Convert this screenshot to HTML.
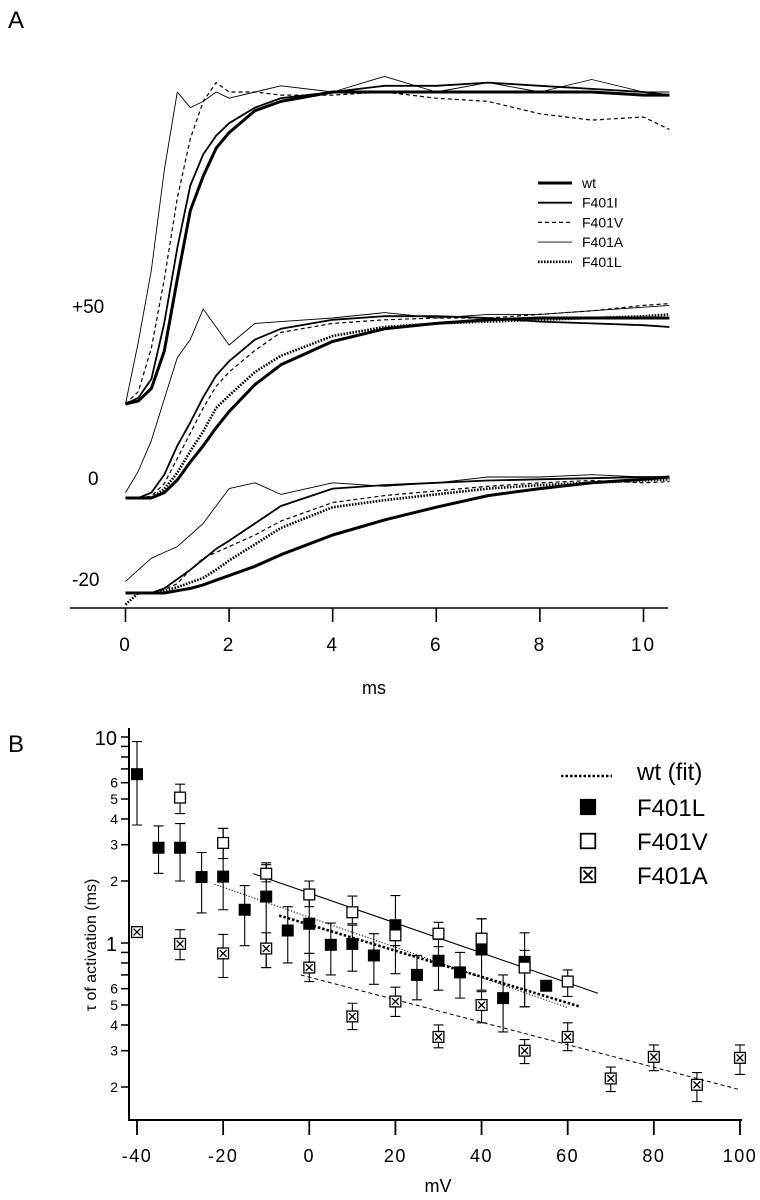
<!DOCTYPE html>
<html><head><meta charset="utf-8"><style>
html,body{margin:0;padding:0;background:#fff;}
svg{display:block;font-family:"Liberation Sans",Arial,sans-serif;}
</style></head><body>
<svg id="fig" width="760" height="1200" viewBox="0 0 760 1200">
<text x="8" y="28" font-size="24">A</text>
<text x="8" y="752" font-size="24">B</text>
<g id="pa"></g>
<g id="pb"></g>
</svg>
<script>
// ---------- Panel A data ----------
const T = [0,0.25,0.5,0.75,1,1.25,1.5,1.75,2,2.5,3,4,5,6,7,8,9,10,10.5];
const groupLabels = ["+50","0","-20"];
const groupBase = [404,498,593];
const groupTop = [92,318,477];
const p50_wt   = [0,.01,.05,.17,.4,.62,.73,.82,.87,.94,.97,1,1,1,1,1,1,.99,.99];
const p50_I    = [0,.02,.08,.26,.5,.7,.8,.86,.9,.95,.98,1,1.02,1.02,1.03,1.02,1.01,1,.99];
const p50_V    = [0,.04,.18,.4,.66,.85,.97,1.03,1.0,1.0,.99,.99,1,.98,.97,.93,.91,.92,.88];
const p50_A    = [0,.2,.43,.75,1.0,.95,.97,1.0,.98,1.0,1.02,1.0,1.05,1.0,1.03,1.0,1.04,1.0,1.0];
const p0_wt    = [0,0,0,.03,.1,.2,.29,.39,.48,.63,.74,.87,.94,.97,.99,1,1,1,1];
const p0_L     = [0,0,0,.05,.14,.26,.37,.5,.57,.7,.79,.9,.95,.97,.98,.99,1,1.01,1.02];
const p0_V     = [0,0,.01,.08,.22,.36,.5,.62,.7,.82,.92,.97,.99,1,1,1.02,1.04,1.07,1.08];
const p0_I     = [0,0,.03,.13,.29,.42,.56,.68,.76,.88,.94,.99,1.01,1.01,1.0,.98,.97,.96,.95];
const p0_A     = [.03,.15,.32,.55,.78,.88,1.05,.95,.85,.97,.98,1.0,1.03,1.0,1.02,1.02,1.04,1.06,1.07];
const m20_wt   = [0,0,0,0,.02,.04,.07,.11,.15,.23,.33,.5,.63,.74,.84,.9,.95,.98,1];
const m20_L    = [-.1,0,0,.02,.05,.09,.13,.2,.28,.42,.56,.74,.8,.85,.9,.93,.95,.97,.98];
const m20_V    = [0,0,0,.03,.08,.2,.3,.35,.4,.5,.62,.78,.84,.88,.92,.95,.97,.95,.96];
const m20_I    = [0,0,0,.04,.12,.2,.29,.38,.45,.6,.75,.9,.93,.95,.97,.98,.99,1,1];
const m20_A    = [.1,.2,.3,.35,.4,.5,.6,.75,.9,.95,.85,.95,.92,.95,1,1,1.02,1.0,1.0];
const traceSets = [
  [p50_wt,p50_I,p50_V,p50_A],
  [p0_wt,p0_L,p0_V,p0_I,p0_A],
  [m20_wt,m20_L,m20_V,m20_I,m20_A]
];
const traceNames = [["wt","F401I","F401V","F401A"],["wt","F401L","F401V","F401I","F401A"],["wt","F401L","F401V","F401I","F401A"]];
const xTicksA = [0,2,4,6,8,10];
const legendA = ["wt","F401I","F401V","F401A","F401L"];

// ---------- Panel B data ----------
const vL = [-40,-35,-30,-25,-20,-15,-10,-5,0,5,10,15,20,25,30,35,40,45,50,55];
const tL = [6.6,2.9,2.9,2.09,2.1,1.45,1.68,1.15,1.24,0.98,0.99,0.87,1.22,0.70,0.82,0.72,0.93,0.54,0.81,0.62];
const hiL= [9.5,3.7,3.8,2.75,3.6,1.9,2.45,1.5,1.62,1.25,1.22,1.11,1.7,0.87,1.04,0.9,1.31,0.70,1.12,0.62];
const loL= [3.74,2.18,2.0,1.4,1.45,0.97,0.76,0.8,0.89,0.70,0.73,0.63,0.71,0.53,0.59,0.54,0.59,0.37,0.49,0.62];
const vV = [-30,-20,-10,0,10,20,30,40,50,60];
const tV = [5.08,3.06,2.17,1.72,1.41,1.09,1.11,1.05,0.76,0.65];
const hiV= [5.9,3.6,2.4,2.0,1.69,1.2,1.26,1.31,0.92,0.74];
const loV= [4.25,2.57,1.98,1.5,1.24,0.97,0.96,0.89,0.49,0.55];
const vA = [-40,-30,-20,-10,0,10,20,30,40,50,60,70,80,90,100];
const tA = [1.13,0.99,0.89,0.94,0.76,0.44,0.52,0.35,0.50,0.30,0.35,0.22,0.28,0.205,0.277];
const hiA= [1.13,1.16,1.1,1.12,0.89,0.51,0.61,0.40,0.58,0.34,0.41,0.25,0.32,0.235,0.32];
const loA= [1.13,0.83,0.68,0.76,0.65,0.38,0.44,0.31,0.41,0.26,0.30,0.19,0.24,0.17,0.23];
const fitV_v=[-13,67], fitV_t=[2.17,0.57];
const fitWt_v=[-22,60], fitWt_t=[1.93,0.486];
const fitL_v=[-7,63], fitL_t=[1.36,0.49];
const fitA_v=[-2,100], fitA_t=[0.70,0.194];
const xTicksB = [-40,-20,0,20,40,60,80,100];
const yMajor = [0.2,0.3,0.4,0.5,0.6,1,2,3,4,5,6,10];
const yMinor = [0.7,0.8,0.9,7,8,9];

const NS="http://www.w3.org/2000/svg";
function mk(tag,attrs,parent){const e=document.createElementNS(NS,tag);for(const k in attrs)e.setAttribute(k,attrs[k]);parent.appendChild(e);return e;}

// ---------- Panel A drawing ----------
const pa=document.getElementById('pa');
const xA=t=>125.5+t*51.8;
const styles={
 wt:{w:3,d:""}, F401I:{w:1.8,d:""}, F401V:{w:1.2,d:"4,3"}, F401A:{w:0.9,d:""}, F401L:{w:2.6,d:"1.6,1.4"}
};
traceSets.forEach((set,gi)=>{
  const b=groupBase[gi], tp=groupTop[gi];
  set.forEach((arr,si)=>{
    const nm=traceNames[gi][si];
    const pts=arr.map((f,i)=>xA(T[i]).toFixed(1)+","+(b-f*(b-tp)).toFixed(1)).join(" ");
    const st=styles[nm];
    const pl=mk('polyline',{points:pts,fill:"none",stroke:"#000","stroke-width":st.w,"stroke-linejoin":"round"},pa);
    if(st.d) pl.setAttribute('stroke-dasharray',st.d);
    
    
  });
});
[["+50",72,313],["0",88,485],["-20",72,586]].forEach(l=>{
  const t=mk('text',{x:l[1],y:l[2],"font-size":19},pa);t.textContent=l[0];
  
  
});
const axA=mk('line',{x1:70,y1:608,x2:668,y2:608,stroke:"#000","stroke-width":1.6},pa);


xTicksA.forEach(v=>{
  const tk=mk('line',{x1:xA(v),y1:608,x2:xA(v),y2:622,stroke:"#000","stroke-width":1.6},pa);
  
  
  const tx=mk('text',{x:xA(v),y:651,"font-size":19,"text-anchor":"middle","letter-spacing":"2"},pa);tx.textContent=v;
  
  
});
const msT=mk('text',{x:374,y:694,"font-size":18,"text-anchor":"middle"},pa);msT.textContent="ms";


legendA.forEach((nm,i)=>{
  const y=183+i*19.7, st=styles[nm];
  const ln=mk('line',{x1:538,y1:y,x2:572,y2:y,stroke:"#000","stroke-width":st.w},pa);
  if(st.d) ln.setAttribute('stroke-dasharray',st.d);
  
  
  const tx=mk('text',{x:582,y:y+5,"font-size":14},pa);tx.textContent=nm;
  
  
});

// ---------- Panel B drawing ----------
const pb=document.getElementById('pb');
const xB=v=>137+(v+40)*4.307;
const yB=t=>943-Math.log10(t)*206;
const yAx=mk('line',{x1:129,y1:728,x2:129,y2:1121,stroke:"#000","stroke-width":2},pb);


const xAx=mk('line',{x1:128,y1:1120,x2:742,y2:1120,stroke:"#000","stroke-width":2},pb);


yMajor.concat(yMinor).forEach(t=>{
  const tk=mk('line',{x1:121,y1:yB(t),x2:129,y2:yB(t),stroke:"#000","stroke-width":1.5},pb);
  
  
});
yMajor.forEach(t=>{
  let lab = t<1 ? Math.round(t*10) : t;
  const big=(t===1||t===10);
  const tx=mk('text',{x:big?117:118,y:yB(t)+(big?8:5),"font-size":big?20:14,"text-anchor":"end"},pb);tx.textContent=lab;
  
  
});
xTicksB.forEach(v=>{
  const tk=mk('line',{x1:xB(v),y1:1120,x2:xB(v),y2:1135,stroke:"#000","stroke-width":1.8},pb);
  
  
  const tx=mk('text',{x:xB(v),y:1162,"font-size":18,"text-anchor":"middle","letter-spacing":"1.5"},pb);tx.textContent=v;
  
  
});
const mvT=mk('text',{x:438,y:1192,"font-size":18,"text-anchor":"middle"},pb);mvT.textContent="mV";


const yt=mk('text',{x:0,y:0,"font-size":16,"text-anchor":"middle",transform:"translate(96,945) rotate(-90)"},pb);yt.textContent="τ of activation (ms)";



function fit(vs,ts,attrs,name){
  const l=mk('line',Object.assign({x1:xB(vs[0]),y1:yB(ts[0]),x2:xB(vs[1]),y2:yB(ts[1]),stroke:"#000"},attrs),pb);
  
  
}
fit(fitV_v,fitV_t,{"stroke-width":1.1},'fit-f401v');
fit(fitWt_v,fitWt_t,{"stroke-width":1,"stroke-dasharray":"1.2,1.8"},'fit-wt');
fit(fitL_v,fitL_t,{"stroke-width":2.6,"stroke-dasharray":"2.5,2"},'fit-f401l');
fit(fitA_v,fitA_t,{"stroke-width":1,"stroke-dasharray":"4,3"},'fit-f401a');

function marker(cx,cy,kind,parent){
  const s=12;
  const g=mk('g',{},parent);
  
  
  if(kind==='L'){mk('rect',{x:cx-s/2,y:cy-s/2,width:s,height:s,fill:"#000"},g);}
  else if(kind==='V'){mk('rect',{x:cx-s/2+0.6,y:cy-s/2+0.6,width:s-1.2,height:s-1.2,fill:"#fff",stroke:"#000","stroke-width":1.3},g);}
  else {const h=s/2-0.6;mk('rect',{x:cx-h,y:cy-h,width:2*h,height:2*h,fill:"#fff",stroke:"#000","stroke-width":1.3},g);
    mk('path',{d:`M${cx-h+2},${cy-h+2}L${cx+h-2},${cy+h-2}M${cx+h-2},${cy-h+2}L${cx-h+2},${cy+h-2}`,stroke:"#000","stroke-width":1.3},g);}
  return g;
}
function series(vs,ts,hi,lo,kind){
  vs.forEach((v,i)=>{
    const x=xB(v);
    if(hi[i]!==lo[i]){
      const eb=mk('path',{d:`M${x},${yB(hi[i])}V${yB(lo[i])}M${x-5},${yB(hi[i])}H${x+5}M${x-5},${yB(lo[i])}H${x+5}`,stroke:"#000","stroke-width":1.1,fill:"none"},pb);
      
      
    }
  });
  vs.forEach((v,i)=>marker(xB(v),yB(ts[i]),kind,pb));
}
series(vL,tL,hiL,loL,'L');
series(vA,tA,hiA,loA,'A');
series(vV,tV,hiV,loV,'V');

// legend B
const lw=mk('line',{x1:561,y1:776,x2:612,y2:776,stroke:"#000","stroke-width":2.4,"stroke-dasharray":"2.5,2"},pb);


[["wt  (fit)",null,778],["F401L",'L',814],["F401V",'V',848],["F401A",'A',882]].forEach(e=>{
  if(e[1]){const m=marker(588,e[2]-7,e[1],pb);m.setAttribute('transform',`translate(${588*-0.35},${(e[2]-7)*-0.35}) scale(1.35)`);}
  const tx=mk('text',{x:637,y:e[2]+2,"font-size":24},pb);tx.textContent=e[0];tx.setAttribute('xml:space','preserve');
  
  
});
</script>
</body></html>
